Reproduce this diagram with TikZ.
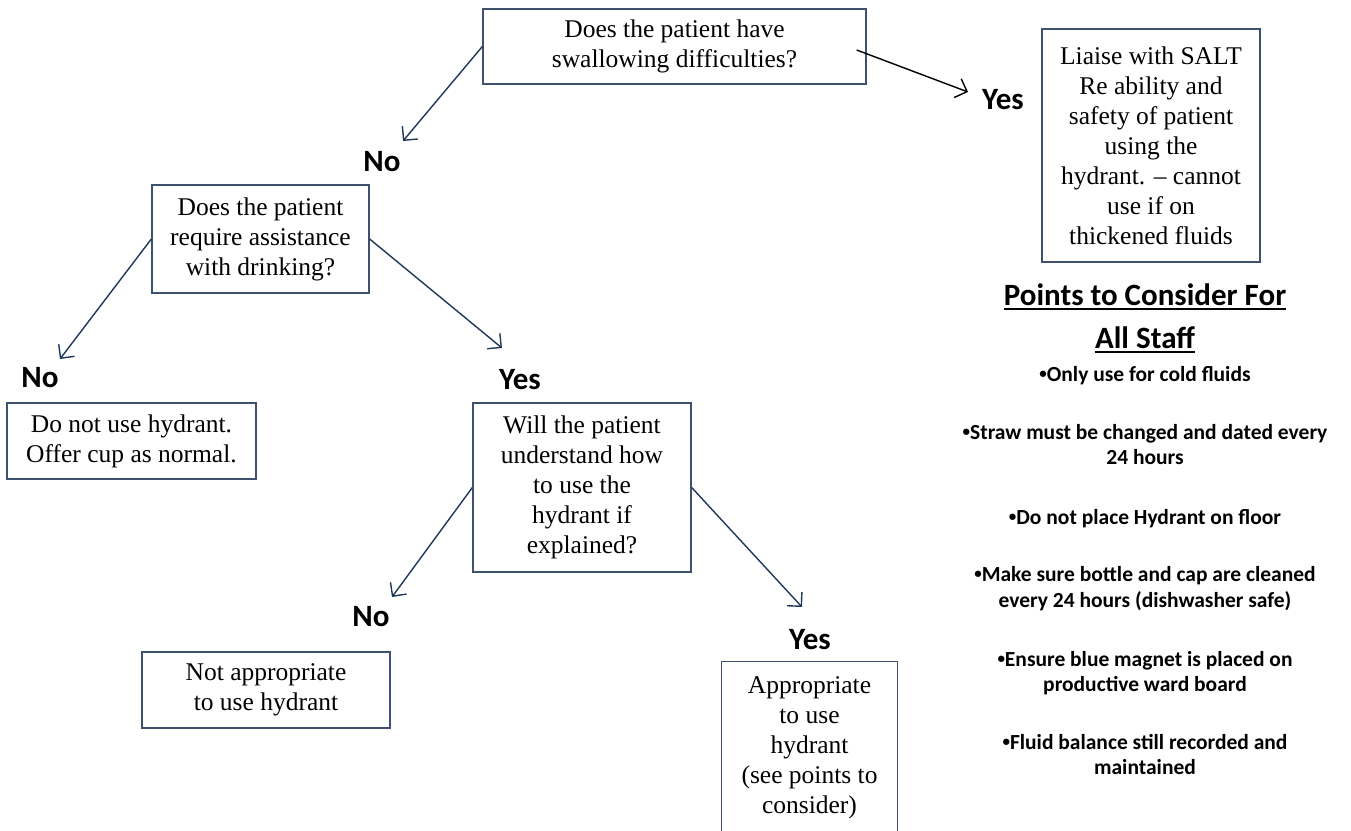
\documentclass[tikz,border=0pt]{standalone}
\usepackage{fontspec}
\setmainfont{Liberation Serif}
\newfontfamily\lab{Carlito}
\usetikzlibrary{arrows.meta,calc}
\definecolor{boxc}{RGB}{62,82,112}
\definecolor{arrc}{RGB}{31,56,90}
\newcommand{\bul}{\raisebox{0.12em}{\fontsize{15}{15}\selectfont•}}
\begin{document}
\begin{tikzpicture}[x=1pt,y=-1pt,
  box/.style={draw=boxc, line width=1.3pt, align=center, inner sep=0pt, font=\fontsize{25.5}{30}\selectfont},
  lbl/.style={font=\lab\bfseries\fontsize{31}{31}\selectfont, inner sep=0pt},
  arr/.style={draw=arrc, line width=1.4pt, -{Straight Barb[length=10pt,width=20pt]}},
  pt/.style={font=\lab\bfseries\fontsize{21.5}{25}\selectfont, inner sep=0pt, anchor=base},
  ttl/.style={font=\lab\bfseries\fontsize{31}{31}\selectfont, inner sep=0pt, anchor=base}]
\useasboundingbox (0,0) rectangle (1351,830);
% boxes
\node[box, minimum width=383pt, minimum height=75pt] (q1) at (674.5,46.5) {Does the patient have\\swallowing difficulties?};
\node[box, minimum width=218pt, minimum height=233pt] (salt) at (1151,145.5) {Liaise with SALT\\Re ability and\\safety of patient\\using the\\hydrant. – cannot\\use if on\\thickened fluids};
\node[box, minimum width=217pt, minimum height=108pt] (q2) at (260.5,239) {Does the patient\\require assistance\\with drinking?};
\node[box, minimum width=249pt, minimum height=76pt] (nouse) at (131.5,441) {Do not use hydrant.\\Offer cup as normal.};
\node[box, minimum width=218pt, minimum height=169pt] (q3) at (582,487.5) {Will the patient\\understand how\\to use the\\hydrant if\\explained?};
\node[box, minimum width=248pt, minimum height=76pt] (notapp) at (266,690) {Not appropriate\\to use hydrant};
\node[box, draw=none, minimum width=175pt, minimum height=171pt] (app) at (809.5,747.5) {Appropriate\\to use\\hydrant\\(see points to\\consider)};
\draw[draw=boxc, line width=1.3pt] ($(app.south west)+(0,20)$) -- (app.north west) -- (app.north east) -- ($(app.south east)+(0,20)$);
% labels
\node[lbl] (yes1) at (1003,100) {Yes};
\node[lbl] (no1) at (382,162) {No};
\node[lbl] (no2) at (40,378) {No};
\node[lbl] (yes2) at (520,380) {Yes};
\node[lbl] (no3) at (371,617) {No};
\node[lbl] (yes3) at (810,640) {Yes};
% arrow tips
\coordinate (t1) at (968,92);
\coordinate (t2) at (403,141);
\coordinate (t3) at (60,359);
\coordinate (t4) at (502,348);
\coordinate (t5) at (392,597);
\coordinate (t6) at (802,607);
\draw[arr, draw=black] ($(q1.east)+(-10,3.5)$) -- (t1);
\draw[arr] (q1.west) -- (t2);
\draw[arr] (q2.west) -- (t3);
\draw[arr] (q2.east) -- (t4);
\draw[arr] (q3.west) -- (t5);
\draw[arr] (q3.east) -- (t6);
% points to consider
\node[ttl] (h1) at (1145,305) {Points to Consider For};
\node[ttl] (h2) at (1145,348) {All Staff};
\draw[line width=1.8pt] ($(h1.base west)+(0,4)$) -- ($(h1.base east)+(0,4)$);
\draw[line width=1.8pt] ($(h2.base west)+(0,4)$) -- ($(h2.base east)+(0,4)$);
\node[pt] (p1) at (1145,381) {\bul Only use for cold fluids};
\node[pt] (p2a) at (1145,439) {\bul Straw must be changed and dated every};
\node[pt] (p2b) at (1145,464) {24 hours};
\node[pt] (p3) at (1145,524) {\bul Do not place Hydrant on floor};
\node[pt] (p4a) at (1145,581) {\bul Make sure bottle and cap are cleaned};
\node[pt] (p4b) at (1145,607) {every 24 hours (dishwasher safe)};
\node[pt] (p5a) at (1145,666) {\bul Ensure blue magnet is placed on};
\node[pt] (p5b) at (1145,691) {productive ward board};
\node[pt] (p6a) at (1145,749) {\bul Fluid balance still recorded and};
\node[pt] (p6b) at (1145,774) {maintained};
\end{tikzpicture}
\end{document}
